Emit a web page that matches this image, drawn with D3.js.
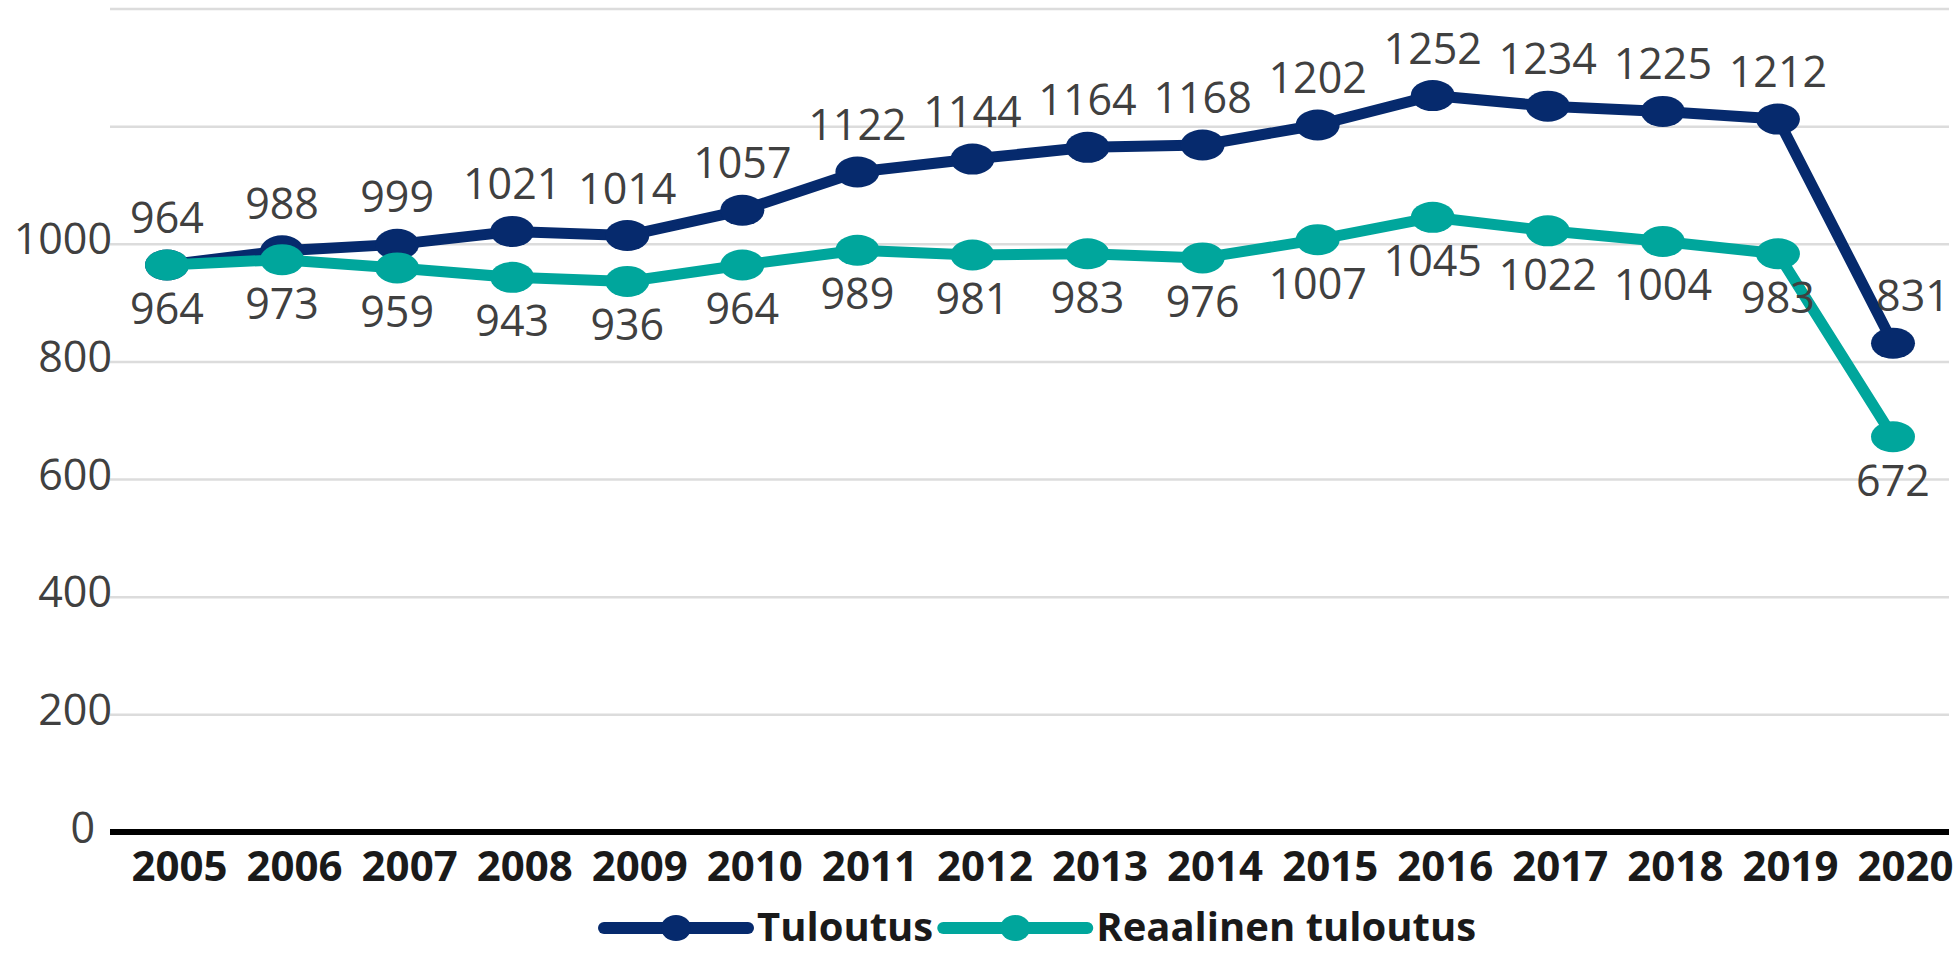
<!DOCTYPE html>
<html>
<head>
<meta charset="utf-8">
<script src="https://cdn.jsdelivr.net/npm/d3@7"></script>
<style>
  html, body { margin: 0; padding: 0; background: #fff; }
  svg { display: block; font-family: "Open Sans", sans-serif; }
</style>
</head>
<body>
<div id="chart"></div>
<script>
var years = ["2005", "2006", "2007", "2008", "2009", "2010", "2011", "2012",
             "2013", "2014", "2015", "2016", "2017", "2018", "2019", "2020"];
var tuloutus = [964, 988, 999, 1021, 1014, 1057, 1122, 1144, 1164, 1168, 1202, 1252, 1234, 1225, 1212, 831];
var reaalinen = [964, 973, 959, 943, 936, 964, 989, 981, 983, 976, 1007, 1045, 1022, 1004, 983, 672];
var gridTicks = [0, 200, 400, 600, 800, 1000, 1200, 1400];
var labelTicks = [0, 200, 400, 600, 800, 1000];
var seriesNames = ["Tuloutus", "Reaalinen tuloutus"];
var seriesColors = ["#062a6d", "#00a69c"];

var width = 1957, height = 953;
var plotLeft = 110, plotRight = 1949, plotTop = 8.5, plotBottom = 832;

var svg = d3.select("#chart").append("svg")
    .attr("width", width)
    .attr("height", height);

var x = d3.scalePoint().domain(years).range([167, 1893]);
var y = d3.scaleLinear().domain([0, 1400]).range([plotBottom, plotTop]);

// gridlines
svg.append("g")
    .attr("transform", "translate(" + plotLeft + ",0)")
    .call(d3.axisLeft(y).tickValues(gridTicks).tickSize(-(plotRight - plotLeft)).tickFormat(""))
    .call(g => g.select(".domain").remove())
    .call(g => g.selectAll("line").attr("stroke", "#dcdcdc").attr("stroke-width", 2.5));

// y labels (only up to 1000 in the original)
svg.append("g")
    .attr("transform", "translate(112,0)")
    .call(d3.axisLeft(y).tickValues(labelTicks).tickFormat(d3.format("d")).tickSize(0).tickPadding(0))
    .call(g => g.select(".domain").remove())
    .call(g => g.selectAll("text")
        .attr("font-family", "Open Sans")
        .attr("font-size", 43)
        .attr("fill", "#404040")
        .attr("dy", null)
        .attr("y", 10)
        .attr("x", d => d === 0 ? -17 : 0));

// x axis
svg.append("line")
    .attr("x1", plotLeft).attr("x2", plotRight)
    .attr("y1", plotBottom).attr("y2", plotBottom)
    .attr("stroke", "#000").attr("stroke-width", 6);

svg.append("g")
    .attr("transform", "translate(0," + plotBottom + ")")
    .call(d3.axisBottom(x).tickSize(0).tickPadding(0))
    .call(g => g.select(".domain").remove())
    .call(g => g.selectAll("text")
        .attr("font-family", "Open Sans")
        .attr("font-size", 42)
        .attr("font-weight", "bold")
        .attr("fill", "#1a1a1a")
        .attr("dy", null)
        .attr("y", 49)
        .attr("dx", 12));

// series
var series = [
    {name: seriesNames[0], color: seriesColors[0], values: tuloutus, labelDy: -47},
    {name: seriesNames[1], color: seriesColors[1], values: reaalinen, labelDy: 44}
];

var line = d3.line()
    .x((d, i) => x(years[i]))
    .y(d => y(d));

series.forEach(function(s, si) {
    var g = svg.append("g");

    g.append("path")
        .datum(s.values)
        .attr("d", line)
        .attr("fill", "none")
        .attr("stroke", s.color)
        .attr("stroke-width", 11)
        .attr("stroke-linejoin", "round");

    g.selectAll("ellipse")
        .data(s.values)
        .enter()
        .append("ellipse")
        .attr("cx", (d, i) => x(years[i]))
        .attr("cy", d => y(d))
        .attr("rx", 22)
        .attr("ry", 15.5)
        .attr("fill", s.color);
});

// data labels on top of everything
series.forEach(function(s, si) {
    svg.append("g").selectAll("text")
        .data(s.values)
        .enter()
        .append("text")
        .attr("x", (d, i) => x(years[i]) + (si === 0 && i === years.length - 1 ? 20 : 0))
        .attr("y", d => y(d) + s.labelDy + 15)
        .attr("text-anchor", "middle")
        .attr("font-size", 43)
        .attr("fill", "#404040")
        .text(d => d);
});

// legend
var legend = svg.append("g").attr("transform", "translate(0,928)");
var lx = 604;
series.forEach(function(s) {
    var item = legend.append("g").attr("transform", "translate(" + lx + ",0)");
    item.append("line")
        .attr("x1", 0).attr("x2", 144)
        .attr("stroke", s.color)
        .attr("stroke-width", 12)
        .attr("stroke-linecap", "round");
    item.append("ellipse")
        .attr("cx", 72).attr("rx", 15).attr("ry", 13)
        .attr("fill", s.color);
    var t = item.append("text")
        .attr("x", 153)
        .attr("y", 13)
        .attr("font-size", 40)
        .attr("font-weight", "bold")
        .attr("fill", "#1a1a1a")
        .text(s.name);
    lx += 153 + t.node().getComputedTextLength() + 10;
});
</script>
</body>
</html>
